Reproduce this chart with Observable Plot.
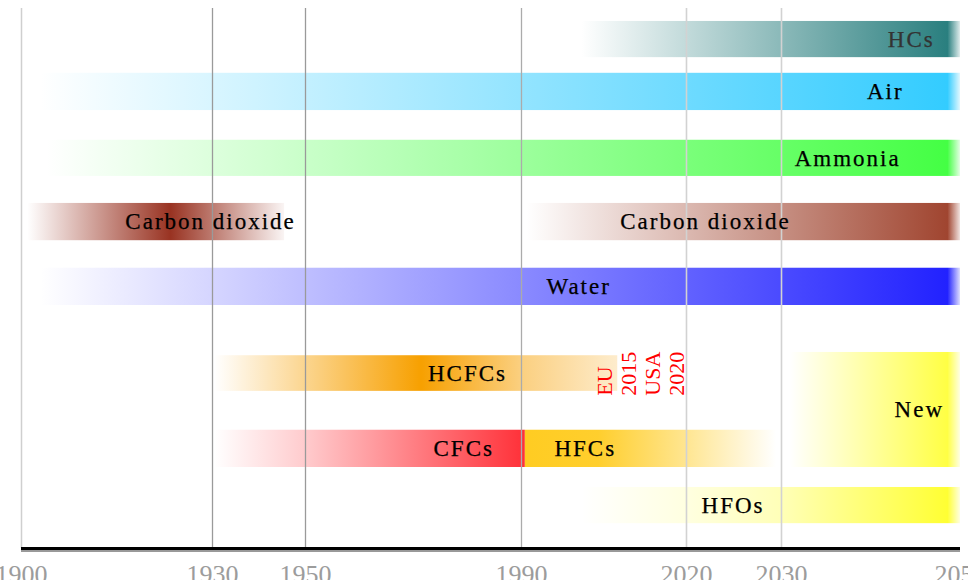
<!DOCTYPE html>
<html>
<head>
<meta charset="utf-8">
<script src="https://cdn.jsdelivr.net/npm/d3@7"></script>
<script src="https://cdn.jsdelivr.net/npm/@observablehq/plot@0.6"></script>
<style>
  html, body { margin: 0; padding: 0; background: #fff; overflow: hidden; }
  #chart svg { display: block; }
  #chart svg text { font-family: "Liberation Serif", "Times New Roman", serif; }
</style>
</head>
<body>
<div id="chart"></div>
<script>
// ---- data ----
const refrigerants = ["HCs", "Air", "Ammonia", "Carbon dioxide", "Carbon dioxide", "Water", "HCFCs", "CFCs", "HFCs", "New", "HFOs"];
const startYear = [2001, 1903, 1904, 1901, 1991, 1903, 1930.5, 1930.5, 1990.7, 2031, 2001];
const endYear   = [2050, 2050, 2050, 1945.5, 2050, 2050, 2007.5, 1990.7, 2029.5, 2050, 2050];
// lane extents (rows from top, 0..10)
const laneTop    = [0.24, 1.20, 2.44, 3.61, 3.61, 4.81, 6.43, 7.81, 7.81, 6.37, 8.87];
const laneBottom = [0.91, 1.89, 3.11, 4.30, 4.30, 5.50, 7.09, 8.50, 8.50, 8.50, 9.54];
const peakColor  = ["#2a7f7f", "#33ccff", "#44ff44", "#993322", "#a04530", "#2222ff", "#f7a000", "#ff3038", "#ffcc22", "#ffff44", "#ffff33"];
// gradient stops: [year, opacity]
const fadeStops = [
  [[2001, 0], [2048.6, 1], [2050, 0.15]],
  [[1903, 0], [2048.6, 1], [2050, 0.15]],
  [[1904, 0], [2048.6, 1], [2050, 0.15]],
  [[1901, 0], [1923.5, 1], [1945.5, 0.05]],
  [[1991, 0], [2048.6, 1], [2050, 0.15]],
  [[1903, 0], [2048.6, 1], [2050, 0.15]],
  [[1930.5, 0], [1971.5, 1], [1990, 0.5], [2007.5, 0.2]],
  [[1930.5, 0], [1950, 0.25], [1990.7, 1]],
  [[1990.7, 1], [2004, 0.95], [2020, 0.5], [2029.5, 0]],
  [[2031, 0], [2048.6, 1], [2050, 0.15]],
  [[2001, 0], [2020, 0.15], [2030, 0.35], [2048.6, 1], [2050, 0.15]]
];
const labelYear = [2044.5, 2041.6, 2037.4, 1929.7, 2022, 2000.4, 1980, 1979.3, 2001.6, 2045.4, 2024.9];
const tickYears = [1900, 1930, 1950, 1990, 2020, 2030, 2050];
const gridYears = [1900, 1930, 1950, 1990, 2020, 2030];
const noteLines = ["EU", "2015", "USA", "2020"];
const noteYear = 2020;
const noteRow = 7.17;

// ---- build table ----
const bars = refrigerants.map((name, i) => ({
  i, name,
  start: startYear[i], end: endYear[i],
  top: laneTop[i], bottom: laneBottom[i],
  color: peakColor[i], stops: fadeStops[i],
  labelX: labelYear[i], labelY: (laneTop[i] + laneBottom[i]) / 2
}));

const serif = "Liberation Serif";

const chart = Plot.plot({
  width: 968,
  height: 580,
  marginTop: 0,
  marginBottom: 32,
  marginLeft: 0,
  marginRight: 0,
  style: { fontFamily: serif, background: "#fff" },
  x: { type: "linear", domain: tickYears, range: [21, 212, 305, 521, 686, 781, 960], label: null },
  y: { domain: [0, 10], range: [8, 548], axis: null },
  color: { type: "identity" },
  marks: [
    Plot.rect(bars, { x1: "start", x2: "end", y1: "top", y2: "bottom", fill: d => `url(#grad${d.i})` }),
    Plot.ruleX(gridYears.filter(y => y === 1900), { y1: 0, y2: 10, stroke: "#cfcfcf", strokeWidth: 1.5 }),
    Plot.ruleX(gridYears.filter(y => y === 1930 || y === 1950), { y1: 0, y2: 10, stroke: "#9a9a9a", strokeWidth: 1.3 }),
    Plot.ruleX(gridYears.filter(y => y === 1990), { y1: 0, y2: 10, stroke: "#ababab", strokeWidth: 1.3 }),
    Plot.ruleX(gridYears.filter(y => y >= 2020), { y1: 0, y2: 10, stroke: "#d2d2d2", strokeWidth: 1.6 }),
    Plot.ruleY([10], { x1: tickYears[0], x2: tickYears[tickYears.length - 1], stroke: "#999", strokeWidth: 2, dy: 2.5 }),
    Plot.ruleY([10], { x1: tickYears[0], x2: tickYears[tickYears.length - 1], stroke: "#000", strokeWidth: 3 }),
    Plot.text(bars, {
      x: "labelX", y: "labelY", text: "name",
      fontSize: 23, textAnchor: "middle", fontFamily: serif,
      fill: d => d.name === "HCs" ? "#333333" : "#000000"
    }),
    Plot.text([{ year: noteYear, row: noteRow, text: noteLines.join("\n") }], {
      x: "year", y: "row", text: "text", fontFamily: serif,
      rotate: -90, textAnchor: "start", lineAnchor: "bottom", lineHeight: 1.08,
      fontSize: 22, fill: "#ff0000", dx: -3
    }),
    Plot.axisX(tickYears, {
      tickSize: 0, tickPadding: 16, fontSize: 26, fill: "#9c9c9c", fontFamily: serif,
      tickFormat: d => String(d), label: null
    })
  ]
});

// ---- gradients built from the x scale ----
const sx = chart.scale("x");
const ns = "http://www.w3.org/2000/svg";
const defs = document.createElementNS(ns, "defs");
bars.forEach(b => {
  const g = document.createElementNS(ns, "linearGradient");
  const x1 = sx.apply(b.start), x2 = sx.apply(b.end);
  g.setAttribute("id", "grad" + b.i);
  g.setAttribute("gradientUnits", "userSpaceOnUse");
  g.setAttribute("x1", x1); g.setAttribute("x2", x2);
  g.setAttribute("y1", 0); g.setAttribute("y2", 0);
  b.stops.forEach(([yr, op]) => {
    const s = document.createElementNS(ns, "stop");
    s.setAttribute("offset", Math.max(0, Math.min(1, (sx.apply(yr) - x1) / (x2 - x1))));
    s.setAttribute("stop-color", b.color);
    s.setAttribute("stop-opacity", op);
    g.appendChild(s);
  });
  defs.appendChild(g);
});
chart.insertBefore(defs, chart.firstChild);

// letter spacing on bar labels
const textGroups = chart.querySelectorAll('g[aria-label="text"]');
if (textGroups[0]) textGroups[0].querySelectorAll("text").forEach(t => {
  t.style.letterSpacing = "2px";
  t.style.stroke = t.getAttribute("fill") || "#000";
  t.style.strokeWidth = "0.25px";
});

document.getElementById("chart").appendChild(chart);
</script>
</body>
</html>
